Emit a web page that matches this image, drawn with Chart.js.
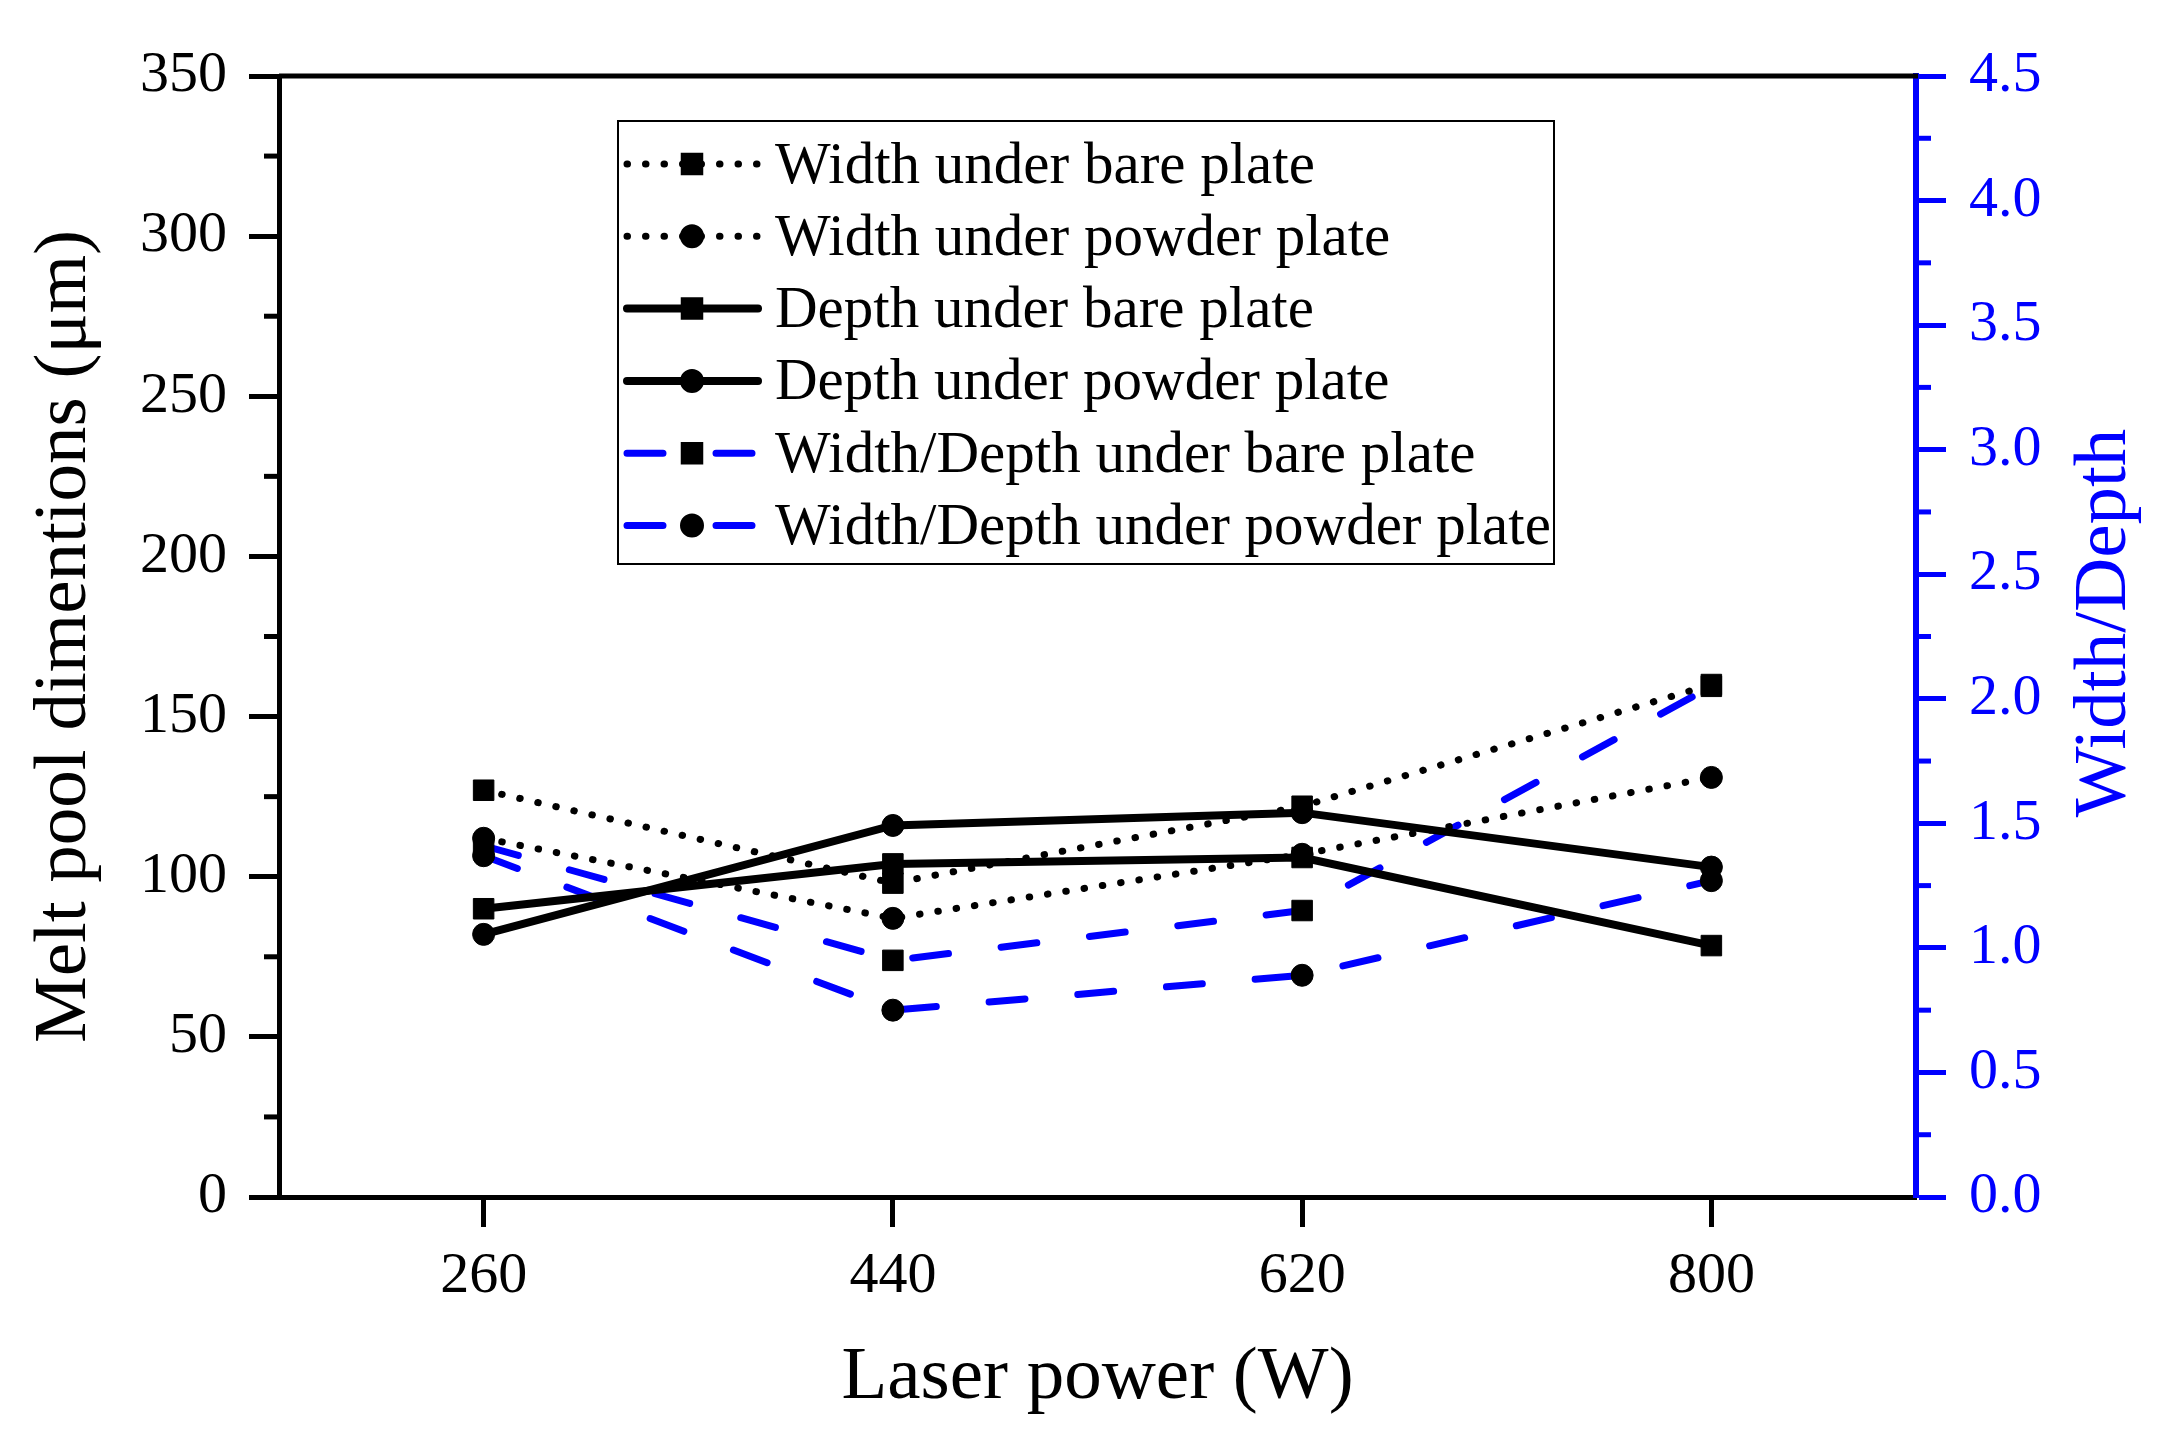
<!DOCTYPE html>
<html>
<head>
<meta charset="utf-8">
<title>Melt pool dimensions</title>
<script src="https://cdn.jsdelivr.net/npm/chart.js@4.4.1/dist/chart.umd.min.js"></script>
<style>
  html, body { margin: 0; padding: 0; background: #fff; }
  #wrap { width: 2171px; height: 1448px; }
</style>
</head>
<body>
<div id="wrap"><canvas id="meltChart" width="2171" height="1448"></canvas></div>
<script>
// ===== data =====
const laserPower = [260, 440, 620, 800];
const widthBare = [127, 98, 122, 160];
const widthPowder = [112, 87, 107, 131];
const depthBare = [90, 104, 106, 78.5];
const depthPowder = [82, 116, 120, 103];
const ratioBare = [1.41, 0.95, 1.15, 2.05];
const ratioPowder = [1.37, 0.75, 0.89, 1.27];

const seriesLabels = [
  "Width under bare plate",
  "Width under powder plate",
  "Depth under bare plate",
  "Depth under powder plate",
  "Width/Depth under bare plate",
  "Width/Depth under powder plate"
];

const xTitle = "Laser power (W)";
const leftTitle = "Melt pool dimentions (\u03bcm)";
const rightTitle = "Width/Depth";
const leftRange = [0, 350];
const rightRange = [0, 4.5];

const FONT = "'Liberation Serif', 'Times New Roman', serif";
const BLUE = "#0000ff";

function points(values) {
  return laserPower.map((p, i) => ({ x: p, y: values[i] }));
}

const dotted = { borderDash: [0.5, 18], borderWidth: 7, borderCapStyle: "round", borderColor: "#000" };
const solid = { borderDash: [], borderWidth: 8, borderCapStyle: "round", borderColor: "#000" };
const dashed = { borderDash: [36, 53], borderWidth: 7, borderCapStyle: "round", borderColor: BLUE };

function series(label, values, axis, line, marker) {
  return Object.assign({
    label,
    data: points(values),
    yAxisID: axis,
    tension: 0,
    fill: false,
    pointStyle: marker,
    pointRadius: marker === "rect" ? 14.5 : 11,
    pointBackgroundColor: "#000",
    pointBorderColor: "#000",
    pointBorderWidth: 1
  }, line);
}

// ===== minor ticks, top frame, legend and right title =====
const extras = {
  id: "extras",
  afterDraw(chart) {
    const ctx = chart.ctx;
    const area = chart.chartArea;
    const yL = chart.scales.y;
    const yR = chart.scales.y2;
    ctx.save();

    // top frame line
    ctx.strokeStyle = "#000";
    ctx.lineWidth = 5;
    ctx.beginPath();
    ctx.moveTo(area.left, area.top);
    ctx.lineTo(area.right + 2, area.top);
    ctx.stroke();

    // minor ticks
    for (let v = 25; v < leftRange[1]; v += 50) {
      const py = yL.getPixelForValue(v);
      ctx.beginPath();
      ctx.moveTo(area.left - 15, py);
      ctx.lineTo(area.left, py);
      ctx.stroke();
    }
    ctx.strokeStyle = BLUE;
    for (let v = 0.25; v < rightRange[1]; v += 0.5) {
      const py = yR.getPixelForValue(v);
      ctx.beginPath();
      ctx.moveTo(area.right, py);
      ctx.lineTo(area.right + 15, py);
      ctx.stroke();
    }

    // legend
    const box = { x: 618, y: 121, w: 936, h: 443 };
    ctx.strokeStyle = "#000";
    ctx.lineWidth = 2;
    ctx.strokeRect(box.x, box.y, box.w, box.h);
    ctx.font = "59px " + FONT;
    ctx.textBaseline = "middle";
    ctx.textAlign = "left";
    chart.data.datasets.forEach((ds, i) => {
      const yy = 164 + i * 72.3;
      ctx.save();
      ctx.setLineDash(ds.borderDash);
      ctx.lineCap = ds.borderCapStyle;
      ctx.lineWidth = ds.borderWidth;
      ctx.strokeStyle = ds.borderColor;
      ctx.beginPath();
      ctx.moveTo(627, yy);
      ctx.lineTo(758, yy);
      ctx.stroke();
      ctx.restore();
      ctx.fillStyle = "#000";
      ctx.strokeStyle = "#000";
      Chart.helpers.drawPoint(ctx, {
        pointStyle: ds.pointStyle,
        radius: ds.pointRadius,
        borderWidth: 1,
        rotation: 0
      }, 692, yy);
      ctx.fillStyle = "#000";
      ctx.fillText(ds.label, 775, yy + 3);
    });

    // right axis title, reading bottom to top
    ctx.translate(2105, 623);
    ctx.rotate(-Math.PI / 2);
    ctx.fillStyle = BLUE;
    ctx.textAlign = "center";
    ctx.font = "75px " + FONT;
    ctx.fillText(rightTitle, 0, 0);
    ctx.restore();
  }
};

const ctx = document.getElementById("meltChart");

new Chart(ctx, {
  type: "line",
  data: {
    datasets: [
      series(seriesLabels[0], widthBare, "y", dotted, "rect"),
      series(seriesLabels[1], widthPowder, "y", dotted, "circle"),
      series(seriesLabels[2], depthBare, "y", solid, "rect"),
      series(seriesLabels[3], depthPowder, "y", solid, "circle"),
      series(seriesLabels[4], ratioBare, "y2", dashed, "rect"),
      series(seriesLabels[5], ratioPowder, "y2", dashed, "circle")
    ]
  },
  options: {
    responsive: false,
    animation: false,
    devicePixelRatio: 1,
    layout: { padding: { top: 76, left: 0, right: 0, bottom: 0 } },
    plugins: {
      legend: { display: false },
      tooltip: { enabled: false }
    },
    scales: {
      x: {
        type: "linear",
        min: 170,
        max: 890,
        afterBuildTicks: s => { s.ticks = laserPower.map(v => ({ value: v })); },
        afterFit: s => { s.height = 251; },
        grid: { display: true, drawOnChartArea: false, drawTicks: true, tickLength: 30, tickWidth: 5, tickColor: "#000" },
        border: { display: true, color: "#000", width: 5 },
        ticks: { color: "#000", font: { family: FONT, size: 58 }, padding: 15, maxRotation: 0, autoSkip: false },
        title: { display: true, text: xTitle, color: "#000", font: { family: FONT, size: 75 }, padding: { top: 0, bottom: 25 } }
      },
      y: {
        position: "left",
        min: leftRange[0],
        max: leftRange[1],
        afterFit: s => { s.width = 279; },
        grid: { display: true, drawOnChartArea: false, drawTicks: true, tickLength: 30, tickWidth: 5, tickColor: "#000" },
        border: { display: true, color: "#000", width: 5 },
        ticks: { stepSize: 50, color: "#000", font: { family: FONT, size: 58 }, padding: 22 },
        title: { display: true, text: leftTitle, color: "#000", font: { family: FONT, size: 75 }, padding: { top: 20, bottom: 0 } }
      },
      y2: {
        position: "right",
        min: rightRange[0],
        max: rightRange[1],
        afterFit: s => { s.width = 255; },
        grid: { display: true, drawOnChartArea: false, drawTicks: true, tickLength: 30, tickWidth: 5, tickColor: BLUE },
        border: { display: true, color: BLUE, width: 6 },
        ticks: { stepSize: 0.5, color: BLUE, font: { family: FONT, size: 58 }, padding: 23, callback: v => v.toFixed(1) }
      }
    }
  },
  plugins: [extras]
});
</script>
</body>
</html>
